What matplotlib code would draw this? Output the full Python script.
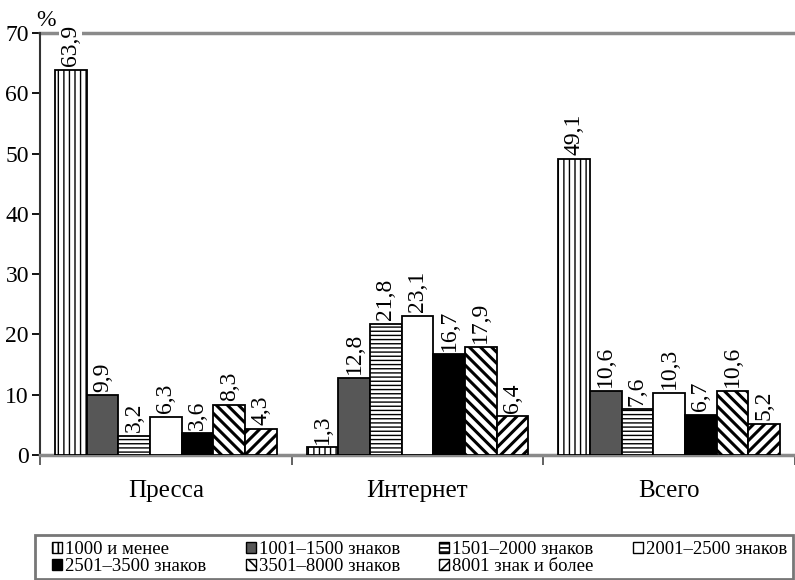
import numpy as np
import matplotlib.pyplot as plt
from matplotlib.patches import Patch, Rectangle

plt.rcParams['font.family'] = ['Liberation Serif', 'DejaVu Serif']
plt.rcParams['hatch.linewidth'] = 1.2

groups = ['Пресса', 'Интернет', 'Всего']
series = ['1000 и менее', '1001–1500 знаков', '1501–2000 знаков', '2001–2500 знаков',
          '2501–3500 знаков', '3501–8000 знаков', '8001 знак и более']
press = [63.9, 9.9, 3.2, 6.3, 3.6, 8.3, 4.3]
internet = [1.3, 12.8, 21.8, 23.1, 16.7, 17.9, 6.4]
total = [49.1, 10.6, 7.6, 10.3, 6.7, 10.6, 5.2]
values = np.array([press, internet, total])

# fill colour, hatch, hatch line width
styles = [
    ('white', '|||', 1.0),
    ('#575757', '', 1.0),
    ('white', '----', 1.0),
    ('white', '', 1.0),
    ('black', '', 1.0),
    ('white', '\\\\\\', 2.2),
    ('white', '///', 2.2),
]

fig = plt.figure(figsize=(7.95, 5.8), dpi=100)
ax = fig.add_axes([40/795, 125/580, 1 - 40/795, (455-33)/580])

n = len(series)
bw = 0.126
offsets = (np.arange(n) - (n - 1) / 2) * bw
centers = np.arange(len(groups)) + 0.5

for j in range(n):
    fc, hatch, hlw = styles[j]
    bars = ax.bar(centers + offsets[j], values[:, j], bw, color=fc, hatch=hatch,
                  edgecolor='black', linewidth=1.3, zorder=3)
    for b in bars:
        if hasattr(b, 'set_hatch_linewidth'):
            b.set_hatch_linewidth(hlw)
    for b, v in zip(bars, values[:, j]):
        ax.text(b.get_x() + b.get_width() / 2, v + 0.6, f'{v:.1f}'.replace('.', ','),
                rotation=90, ha='center', va='bottom', fontsize=17, zorder=4,
                bbox=dict(facecolor='white', edgecolor='none', pad=0.5))

ax.set_ylim(0, 70)
ax.set_xlim(0, (795 - 40) / 253.5)
ax.set_yticks(range(0, 71, 10))
ax.tick_params(axis='y', labelsize=17, length=6, width=1.3, direction='out', pad=2)

ax.set_xticks([0, 1, 2, 3])
ax.set_xticklabels([])
ax.set_xticks(centers, minor=True)
ax.set_xticklabels(groups, minor=True, fontsize=18)
ax.tick_params(axis='x', which='major', length=7, width=1.3, color='#555555', direction='out')
ax.tick_params(axis='x', which='minor', length=0, pad=18)

ax.spines['right'].set_visible(False)
ax.spines['left'].set_linewidth(1.5)
ax.spines['left'].set_color('#333333')
ax.spines['bottom'].set_linewidth(2.5)
ax.spines['bottom'].set_color('#8a8a8a')
ax.spines['top'].set_linewidth(2.5)
ax.spines['top'].set_color('#8a8a8a')
ax.spines['top'].set_zorder(2)

ax.text(-0.005, 1.004, '%', transform=ax.transAxes, fontsize=17, ha='left', va='bottom')

# legend box drawn separately, legend entries spread inside it
fig.patches.append(Rectangle((35/795, 1/580), 758/795, 44/580, transform=fig.transFigure,
                             facecolor='white', edgecolor='#777777', linewidth=2.0, zorder=0))
handles = [Patch(facecolor=s[0], hatch=s[1], edgecolor='black', linewidth=1.0) for s in styles]
order = [0, 4, 1, 5, 2, 6, 3]
leg = fig.legend([handles[i] for i in order], [series[i] for i in order],
                 loc='center', bbox_to_anchor=(52/795, 4/580, 735/795, 36/580),
                 mode='expand', ncol=4, fontsize=13.5, frameon=False,
                 handlelength=0.55, handleheight=0.55, handletextpad=0.15,
                 borderpad=0.0, labelspacing=0.0, columnspacing=0.8, borderaxespad=0)

fig.savefig('out.png', dpi=100)
